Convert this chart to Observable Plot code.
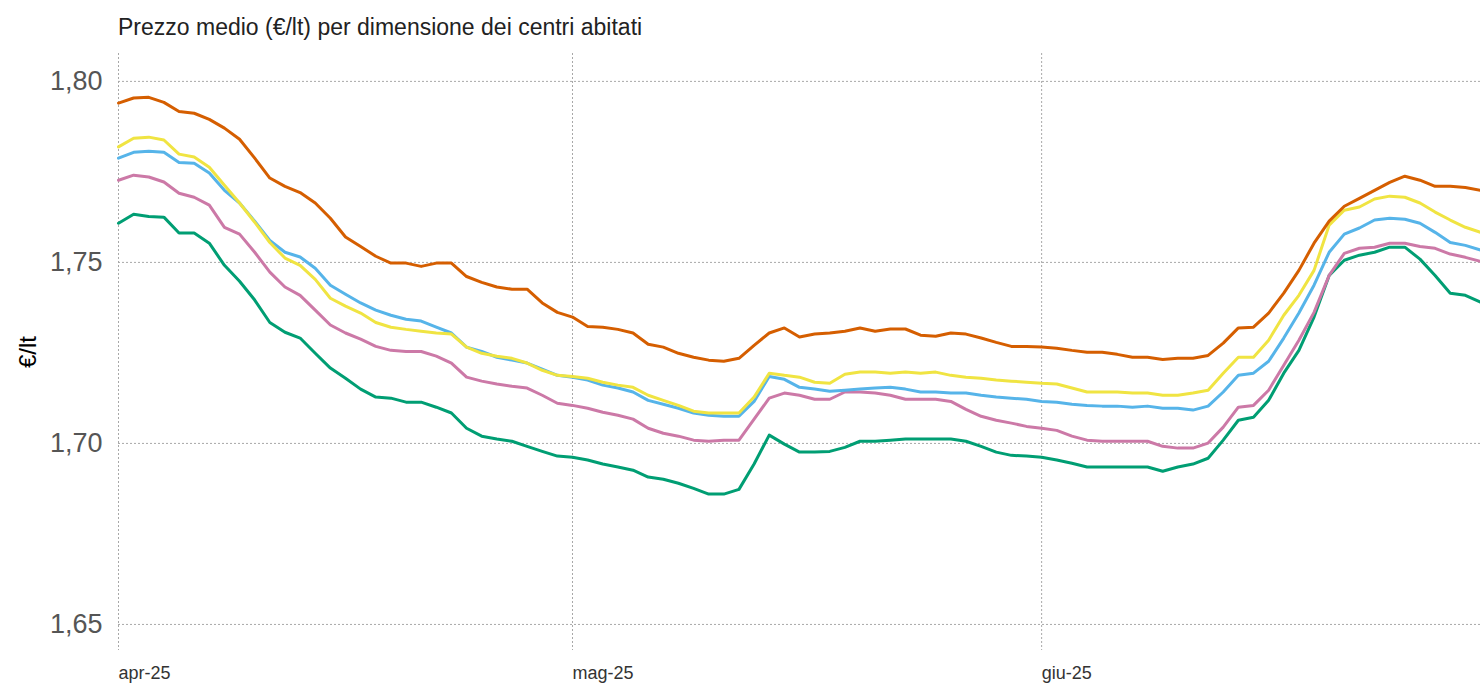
<!DOCTYPE html>
<html>
<head>
<meta charset="utf-8">
<script src="https://cdn.jsdelivr.net/npm/d3@7"></script>
<script src="https://cdn.jsdelivr.net/npm/@observablehq/plot@0.6"></script>
<style>
  body { margin: 0; background: #fff; font-family: "Liberation Sans", Arial, sans-serif; }
  #title { height: 48px; box-sizing: border-box; padding: 14px 0 0 118px; font-size: 23px; line-height: 27px; color: #222; white-space: nowrap; }
  #chart svg { display: block; }
</style>
</head>
<body>
<div id="title">Prezzo medio (€/lt) per dimensione dei centri abitati</div>
<div id="chart"></div>
<script>
// Daily values, from 1 April 2025
const startDate = "2025-04-01";

const seriesNames = ["Serie 1", "Serie 2", "Serie 3", "Serie 4", "Serie 5"];
const seriesColors = ["#D55E00", "#F0E442", "#56B4E9", "#CC79A7", "#009E73"];

const orangeValues = [
  1.7940, 1.7954, 1.7956, 1.7942, 1.7917, 1.7912, 1.7895, 1.7871, 1.7840, 1.7788,
  1.7733, 1.7710, 1.7693, 1.7664, 1.7622, 1.7570, 1.7544, 1.7517, 1.7498, 1.7498,
  1.7489, 1.7498, 1.7498, 1.7461, 1.7445, 1.7432, 1.7426, 1.7426, 1.7388, 1.7362,
  1.7349, 1.7323, 1.7321, 1.7315, 1.7305, 1.7274, 1.7266, 1.7249, 1.7238, 1.7230,
  1.7227, 1.7235, 1.7271, 1.7305, 1.7319, 1.7294, 1.7302, 1.7305, 1.7310, 1.7319,
  1.7310, 1.7316, 1.7316, 1.7299, 1.7296, 1.7305, 1.7302, 1.7291, 1.7279, 1.7268,
  1.7268, 1.7266, 1.7263, 1.7257, 1.7252, 1.7252, 1.7246, 1.7238, 1.7238, 1.7232,
  1.7235, 1.7235, 1.7243, 1.7277, 1.7319, 1.7321, 1.7360, 1.7415, 1.7478, 1.7553,
  1.7614, 1.7655, 1.7677, 1.7699, 1.7721, 1.7738, 1.7727, 1.7710, 1.7710, 1.7707,
  1.7699
];
const yellowValues = [
  1.7819, 1.7843, 1.7846, 1.7838, 1.7799, 1.7791, 1.7763, 1.7713, 1.7664, 1.7611,
  1.7555, 1.7512, 1.7492, 1.7453, 1.7401, 1.7379, 1.7360, 1.7334, 1.7321, 1.7315,
  1.7310, 1.7305, 1.7302, 1.7266, 1.7249, 1.7241, 1.7235, 1.7222, 1.7202, 1.7188,
  1.7185, 1.7180, 1.7169, 1.7161, 1.7155, 1.7133, 1.7119, 1.7105, 1.7089, 1.7084,
  1.7084, 1.7084, 1.7128, 1.7194, 1.7188, 1.7183, 1.7169, 1.7166, 1.7191, 1.7197,
  1.7197, 1.7194, 1.7197, 1.7194, 1.7197, 1.7188, 1.7183, 1.7180, 1.7175, 1.7172,
  1.7169, 1.7166, 1.7164, 1.7153, 1.7142, 1.7142, 1.7142, 1.7139, 1.7139, 1.7133,
  1.7133, 1.7139, 1.7147, 1.7194, 1.7238, 1.7238, 1.7285, 1.7354, 1.7409, 1.7478,
  1.7603, 1.7644, 1.7653, 1.7675, 1.7683, 1.7680, 1.7664, 1.7639, 1.7617, 1.7597,
  1.7583
];
const blueValues = [
  1.7788, 1.7804, 1.7807, 1.7804, 1.7776, 1.7774, 1.7747, 1.7699, 1.7664, 1.7614,
  1.7561, 1.7528, 1.7515, 1.7484, 1.7437, 1.7412, 1.7388, 1.7368, 1.7354, 1.7343,
  1.7338, 1.7321, 1.7305, 1.7266, 1.7254, 1.7238, 1.7230, 1.7222, 1.7205, 1.7188,
  1.7183, 1.7175, 1.7161, 1.7153, 1.7142, 1.7119, 1.7108, 1.7097, 1.7084, 1.7078,
  1.7075, 1.7075, 1.7116, 1.7185, 1.7177, 1.7155, 1.7150, 1.7144, 1.7147, 1.7150,
  1.7153, 1.7155, 1.7150, 1.7142, 1.7142, 1.7139, 1.7139, 1.7133, 1.7128, 1.7125,
  1.7122, 1.7116, 1.7114, 1.7108, 1.7105, 1.7103, 1.7103, 1.7100, 1.7103, 1.7097,
  1.7097, 1.7092, 1.7103, 1.7142, 1.7188, 1.7194, 1.7227, 1.7291, 1.7360, 1.7437,
  1.7528, 1.7578, 1.7595, 1.7617, 1.7622, 1.7619, 1.7608, 1.7583, 1.7555, 1.7547,
  1.7534
];
const pinkValues = [
  1.7727, 1.7741, 1.7736, 1.7722, 1.7691, 1.7680, 1.7658, 1.7597, 1.7578, 1.7528,
  1.7473, 1.7432, 1.7409, 1.7368, 1.7327, 1.7305, 1.7288, 1.7268, 1.7257, 1.7254,
  1.7254, 1.7241, 1.7222, 1.7183, 1.7172, 1.7164, 1.7158, 1.7153, 1.7133, 1.7111,
  1.7105, 1.7097, 1.7086, 1.7078, 1.7067, 1.7042, 1.7028, 1.7020, 1.7009, 1.7006,
  1.7009, 1.7009, 1.7067, 1.7125, 1.7139, 1.7133, 1.7122, 1.7122, 1.7142, 1.7142,
  1.7139, 1.7133, 1.7122, 1.7122, 1.7122, 1.7116, 1.7094, 1.7075, 1.7064, 1.7056,
  1.7047, 1.7042, 1.7036, 1.7020, 1.7009, 1.7006, 1.7006, 1.7006, 1.7006, 1.6992,
  1.6987, 1.6987, 1.7001, 1.7045, 1.7100, 1.7105, 1.7147, 1.7216, 1.7285, 1.7362,
  1.7464, 1.7525, 1.7539, 1.7542, 1.7553, 1.7553, 1.7544, 1.7539, 1.7523, 1.7514,
  1.7503
];
const greenValues = [
  1.7608, 1.7633, 1.7627, 1.7625, 1.7581, 1.7581, 1.7553, 1.7492, 1.7448, 1.7396,
  1.7334, 1.7307, 1.7291, 1.7249, 1.7208, 1.7180, 1.7150, 1.7128, 1.7125, 1.7114,
  1.7114, 1.7100, 1.7084, 1.7042, 1.7020, 1.7012, 1.7006, 1.6992, 1.6978, 1.6965,
  1.6962, 1.6954, 1.6943, 1.6935, 1.6926, 1.6907, 1.6901, 1.6890, 1.6876, 1.6860,
  1.6860, 1.6873, 1.6943, 1.7023, 1.6998, 1.6976, 1.6976, 1.6978, 1.6989, 1.7006,
  1.7006, 1.7009, 1.7012, 1.7012, 1.7012, 1.7012, 1.7006, 1.6992, 1.6976, 1.6967,
  1.6965, 1.6962, 1.6954, 1.6945, 1.6935, 1.6935, 1.6935, 1.6935, 1.6935, 1.6923,
  1.6935, 1.6943, 1.6959, 1.7009, 1.7064, 1.7072, 1.7119, 1.7194, 1.7257, 1.7349,
  1.7464, 1.7506, 1.7520, 1.7528, 1.7542, 1.7542, 1.7509, 1.7464, 1.7415, 1.7409,
  1.7390
];

const yTicks = [1.65, 1.70, 1.75, 1.80];
const xTickDates = ["2025-04-01", "2025-05-01", "2025-06-01"];
const xTickLabels = ["apr-25", "mag-25", "giu-25"];

// ---- build table
const allValues = [orangeValues, yellowValues, blueValues, pinkValues, greenValues];
const start = new Date(startDate);
const rows = [];
allValues.forEach((vals, s) => {
  vals.forEach((v, i) => rows.push({series: seriesNames[s], date: d3.utcDay.offset(start, i), value: v}));
});
const drawOrder = ["Serie 5", "Serie 4", "Serie 3", "Serie 2", "Serie 1"];
rows.sort((a, b) => drawOrder.indexOf(a.series) - drawOrder.indexOf(b.series));

const xTicks = xTickDates.map(d => new Date(d));
const xLabelMap = new Map(xTicks.map((d, i) => [+d, xTickLabels[i]]));

const chart = Plot.plot({
  width: 1480,
  height: 636,
  marginLeft: 118,
  marginRight: 0,
  marginTop: 5,
  marginBottom: 34,
  style: {fontFamily: "'Liberation Sans', Arial, sans-serif", background: "#fff", overflow: "visible"},
  x: {type: "utc", domain: [new Date("2025-04-01"), new Date("2025-06-30")]},
  y: {domain: [1.6428, 1.8077]},
  color: {domain: seriesNames, range: seriesColors},
  marks: [
    Plot.gridY(yTicks, {stroke: "#a8a8a8", strokeOpacity: 1, strokeWidth: 1, strokeDasharray: "2,2"}),
    Plot.gridX(xTicks, {stroke: "#a8a8a8", strokeOpacity: 1, strokeWidth: 1, strokeDasharray: "2,2"}),
    Plot.axisY(yTicks, {
      tickSize: 0, tickPadding: 16, fontSize: 27, fill: "#555",
      tickFormat: d => d.toFixed(2).replace(".", ","), label: null
    }),
    Plot.axisY([], {
      label: "€/lt", labelAnchor: "center", labelArrow: "none", labelOffset: 100,
      fontSize: 24, fill: "#000", tickSize: 0
    }),
    Plot.axisX(xTicks, {
      tickSize: 0, tickPadding: 16, fontSize: 18, fill: "#333", textAnchor: "start",
      tickFormat: d => xLabelMap.get(+d), label: null
    }),
    Plot.line(rows, {x: "date", y: "value", z: "series", stroke: "series", strokeWidth: 3, strokeLinejoin: "round"})
  ]
});
document.getElementById("chart").appendChild(chart);
</script>
</body>
</html>
